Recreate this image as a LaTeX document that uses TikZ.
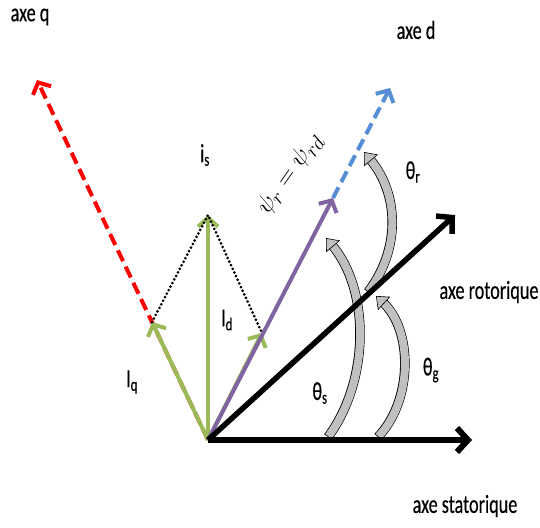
\documentclass[tikz,border=0pt]{standalone}
\usepackage{fontspec}
\setmainfont{Carlito}[FakeStretch=0.7,FakeBold=0.3]
\usetikzlibrary{arrows.meta,calc}
\definecolor{vgreen}{HTML}{9BBB59}
\definecolor{vpurple}{HTML}{8064A2}
\definecolor{vblue}{HTML}{558ED5}
\definecolor{vred}{HTML}{FF0000}
\definecolor{vgray}{HTML}{C0C0C0}
\newcommand\bentarrow[4]{%
  \draw[line width=9.5pt, black, shorten >=9pt] (#1) .. controls (#2) and (#3) .. (#4);
  \draw[line width=8pt, vgray, shorten >=9.5pt, shorten <=0.8pt] (#1) .. controls (#2) and (#3) .. (#4);
  \draw[line width=0.6pt, black, -{Triangle[width=18pt,length=11pt,fill=vgray]}] ($(#4)!1pt!(#3)$) -- (#4);
}
\begin{document}
\begin{tikzpicture}[x=1pt,y=-1pt,
  lbl/.style={font=\fontsize{26}{30}\selectfont, inner sep=0pt, text=black},
  barb/.style={-{Straight Barb[length=9pt,width=20pt]}},
  vec/.style={line width=4pt, barb},
  dashvec/.style={line width=4pt, dash pattern=on 12pt off 6pt, barb},
  dotline/.style={line width=3pt, dash pattern=on 0pt off 4pt, line cap=round},
  axisline/.style={line width=5.5pt, black, -{Straight Barb[length=11pt,width=24pt]}}]
\useasboundingbox (0,0) rectangle (540,527);
% key points
\coordinate (O) at (208,440);
\coordinate (S) at (472,440);
\coordinate (R) at (455,215);
\coordinate (P) at (333,198);
\coordinate (D) at (390,88);
\coordinate (Q) at (37,80);
\coordinate (Iq) at (152,322);
\coordinate (Id) at (208,215);
\coordinate (Ip) at (262,333);
% q axis (red dashed)
\draw[dashvec, vred] (O) -- (Q);
% current components
\draw[vec, vgreen] (O) -- (Iq);
\draw[vec, vgreen] (O) -- (Id);
\draw[vec, vgreen] (O) -- (Ip);
% dotted projections
\draw[dotline] (Iq) -- (Id) -- (Ip);
% flux vector and d axis
\draw[dashvec, vblue] (P) -- (D);
\draw[vec, vpurple] (O) -- (P);
% angle arrows
\coordinate (s0) at (328,437); \coordinate (s1) at (370,380); \coordinate (s2) at (370,290); \coordinate (s3) at (326,238);
\coordinate (g0) at (378,437); \coordinate (g1) at (413,400); \coordinate (g2) at (413,330); \coordinate (g3) at (376,296);
\coordinate (r0) at (368,292); \coordinate (r1) at (400,250); \coordinate (r2) at (400,195); \coordinate (r3) at (364,152);
\bentarrow{s0}{s1}{s2}{s3}
\bentarrow{g0}{g1}{g2}{g3}
\bentarrow{r0}{r1}{r2}{r3}
% axes
\draw[axisline] (O) -- (R);
\draw[axisline, line width=6pt] (O) -- (S);
% labels
\node[lbl] (lq) at (30,17) {axe q};
\node[lbl] (ld) at (416,30) {axe d};
\node[lbl] (lis) at (205,155) {i\textsubscript{s}};
\node[lbl] (lthr) at (413,172) {θ\textsubscript{r}};
\node[lbl] (lrot) at (489,292) {axe rotorique};
\node[lbl] (lid) at (227,320) {I\textsubscript{d}};
\node[lbl] (liq) at (132,382) {I\textsubscript{q}};
\node[lbl] (lths) at (320,393) {θ\textsubscript{s}};
\node[lbl] (lthg) at (431,370) {θ\textsubscript{g}};
\node[lbl] (lsta) at (465,506) {axe statorique};
\node[inner sep=0pt, rotate=55, font=\fontsize{28}{32}\selectfont] (psi) at (290,174) {$\psi_r = \psi_{rd}$};
\end{tikzpicture}
\end{document}
